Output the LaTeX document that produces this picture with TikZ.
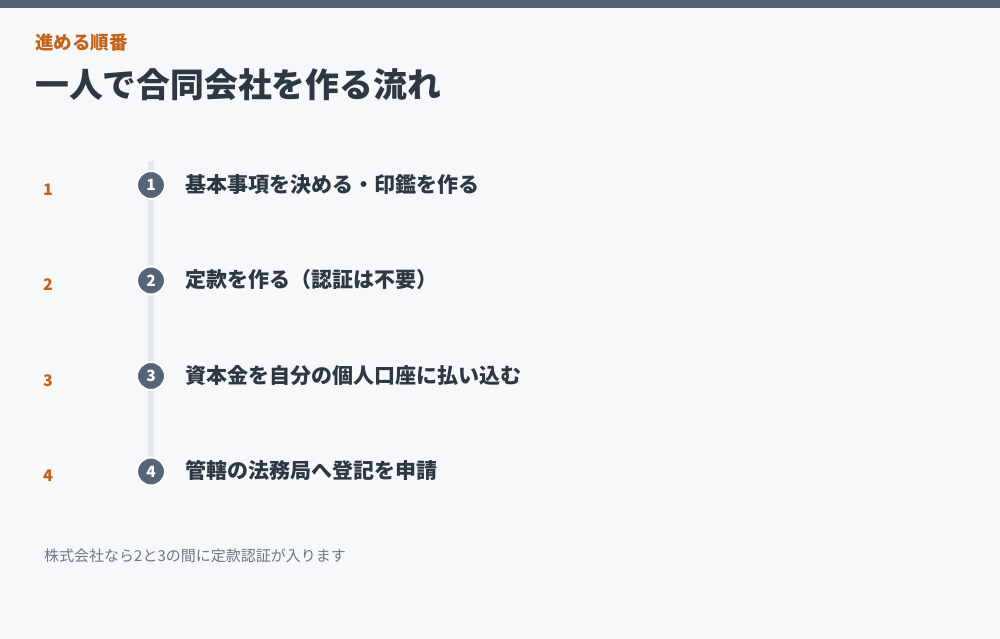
\documentclass[tikz,border=0pt]{standalone}
\usepackage{fontspec}
\setmainfont{Noto Sans CJK JP}
\usepackage{xcolor}
\definecolor{pagebg}{HTML}{F6F8FA}
\definecolor{slate}{HTML}{546479}
\definecolor{rust}{HTML}{C4621A}
\definecolor{ink}{HTML}{2E3843}
\definecolor{muted}{HTML}{6B7785}
\definecolor{rail}{HTML}{E5EAF0}
\tikzset{
  stepdot/.style={circle,fill=slate,draw=white,line width=2pt,minimum size=28pt,inner sep=0pt,
    text=white,font=\fontsize{15.5}{15.5}\selectfont\bfseries},
  steptext/.style={anchor=base west,inner sep=0pt,text=ink,font=\fontsize{21}{22}\selectfont\bfseries},
  stepnum/.style={anchor=base west,inner sep=0pt,text=rust,font=\fontsize{16}{16}\selectfont\bfseries}
}
\begin{document}
\begin{tikzpicture}[x=1pt,y=-1pt]
\useasboundingbox (0,0) rectangle (1000,639);
\fill[pagebg] (0,0) rectangle (1000,639);
\fill[slate] (0,0) rectangle (1000,8);

% heading
\node[anchor=base west,inner sep=0pt,text=rust,font=\fontsize{18.5}{18}\selectfont\bfseries] (kicker) at (35,50) {進める順番};
\node[anchor=base west,inner sep=0pt,text=ink,font=\fontsize{33.8}{34}\selectfont\bfseries] (title) at (35,98) {一人で合同会社を作る流れ};

% rail
\coordinate (railtop) at (151,161);
\coordinate (railend) at (151,466);
\draw[rail,line width=6pt] (railtop) -- (railend);

% steps
\node[stepdot] (s1) at (151,185) {1};
\node[stepdot] (s2) at (151,280.5) {2};
\node[stepdot] (s3) at (151,376) {3};
\node[stepdot] (s4) at (151,471.5) {4};

\node[steptext] (t1) at (185,192) {基本事項を決める・印鑑を作る};
\node[steptext] (t2) at (185,287.5) {定款を作る（認証は不要）};
\node[steptext] (t3) at (185,383) {資本金を自分の個人口座に払い込む};
\node[steptext] (t4) at (185,478.5) {管轄の法務局へ登記を申請};

\node[stepnum] (n1) at (43,195) {1};
\node[stepnum] (n2) at (43,290.5) {2};
\node[stepnum] (n3) at (43,386) {3};
\node[stepnum] (n4) at (43,481.5) {4};

% note
\node[anchor=base west,inner sep=0pt,text=muted,font=\fontsize{15}{15}\selectfont] (note) at (44,561) {株式会社なら2と3の間に定款認証が入ります};
\end{tikzpicture}
\end{document}
